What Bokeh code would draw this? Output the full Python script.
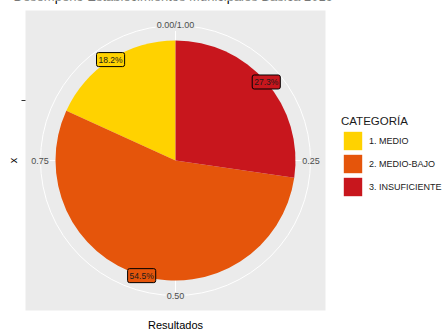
import numpy as np
from bokeh.plotting import figure
from bokeh.models import Range1d, Legend, LegendItem
from bokeh.core.properties import value
from bokeh.embed import file_html
from bokeh.resources import INLINE

# ---- data ----
categories = ["1. MEDIO", "2. MEDIO-BAJO", "3. INSUFICIENTE"]
percent = [18.2, 54.5, 27.3]
colors = ["#FFD200", "#E5550B", "#C8161D"]
theta_breaks = [0.0, 0.25, 0.50, 0.75]
theta_labels = ["0.00/1.00", "0.25", "0.50", "0.75"]
r_breaks = [0.5]
title_text = "Desempeño Establecimientos Municipales Básica 2019"
legend_title = "CATEGORÍA"
x_title = "Resultados"
y_title = "x"

FONT_NAME = "Liberation Sans"
FONT = value(FONT_NAME)

# ---- layout (pixels) ----
W, H = 443, 330
CX, CY = 175, 160          # pie centre in canvas px (from top-left)
R = 120.0                  # pie radius in px -> 1 data unit

p = figure(width=W, height=H,
           x_range=Range1d(-CX / R, (W - CX) / R),
           y_range=Range1d(-(H - CY) / R, CY / R),
           output_backend="svg", toolbar_location=None,
           x_axis_location=None, y_axis_location=None, min_border=0)
p.grid.visible = False
p.outline_line_color = None
p.background_fill_color = "white"
p.border_fill_color = "white"

# panel
PAN = 1.25
p.quad(left=-PAN, right=PAN, bottom=-PAN, top=PAN, fill_color="#EBEBEB", line_color=None)

# grid
R_OUT = 1.125
p.circle(x=0, y=0, radius=R_OUT, fill_color=None, line_color="white", line_width=1)
tb = np.array(theta_breaks)
p.segment(x0=0, y0=0, x1=R_OUT * np.sin(2 * np.pi * tb), y1=R_OUT * np.cos(2 * np.pi * tb),
          line_color="white", line_width=1)

# slices (stacked in reverse order, clockwise from top)
frac = np.array(percent) / sum(percent)
start_f = {}
cum = 0.0
for i in reversed(range(len(categories))):
    start_f[i] = cum
    cum += frac[i]

renderers = []
mids = []
for i, cat in enumerate(categories):
    f0, f1 = start_f[i], start_f[i] + frac[i]
    r = p.wedge(x=0, y=0, radius=1.0,
                start_angle=np.pi / 2 - 2 * np.pi * f1,
                end_angle=np.pi / 2 - 2 * np.pi * f0,
                fill_color=colors[i], line_color=None)
    renderers.append(r)
    mids.append((f0 + f1) / 2)
mids = np.array(mids)

# slice labels
p.text(x=np.sin(2 * np.pi * mids), y=np.cos(2 * np.pi * mids),
       text=[f"{v:.1f}%" for v in percent],
       text_align="center", text_baseline="middle", text_font=FONT,
       text_font_size="8.5px", text_color="#1A1A1A",
       background_fill_color=colors, border_line_color="black", border_line_width=1,
       padding=2, border_radius=2)

# theta axis labels
R_LAB = 1.13
p.text(x=R_LAB * np.sin(2 * np.pi * tb), y=R_LAB * np.cos(2 * np.pi * tb),
       text=theta_labels, text_align="center", text_baseline="middle",
       text_font=FONT, text_font_size="9px", text_color="#4D4D4D",
       background_fill_color="#EBEBEB", padding=1)

# r axis tick (no label)
p.segment(x0=-PAN - 4 / R, x1=-PAN, y0=r_breaks, y1=r_breaks, line_color="#333333", line_width=1)

# axis titles
p.text(x=[0], y=[-(324 - CY) / R], text=[x_title], text_align="center", text_baseline="middle",
       text_font=FONT, text_font_size="11px", text_color="black")
p.text(x=[-(CX - 12) / R], y=[0], text=[y_title], angle=np.pi / 2, text_align="center",
       text_baseline="middle", text_font=FONT, text_font_size="11px", text_color="black")

# plot title (cut off at the top as in the reference)
p.text(x=[-(CX - 13) / R], y=[(CY + 4) / R], text=[title_text], text_align="left",
       text_baseline="alphabetic", text_font=FONT, text_font_size="13px", text_color="black")

# legend
legend = Legend(items=[LegendItem(label=c, renderers=[r]) for c, r in zip(categories, renderers)],
                location=(341, 132), title=legend_title,
                title_text_font=FONT_NAME, title_text_font_size="11.5px", title_text_font_style="normal",
                title_text_color="#1A1A1A", title_standoff=2,
                label_text_font=FONT_NAME, label_text_font_size="9px", label_text_color="#1A1A1A",
                glyph_height=23, glyph_width=23, label_height=23, label_standoff=5,
                spacing=-5, padding=0, margin=0,
                border_line_color=None, background_fill_alpha=0)
p.add_layout(legend)

open("out.html", "w").write(file_html(p, INLINE))
